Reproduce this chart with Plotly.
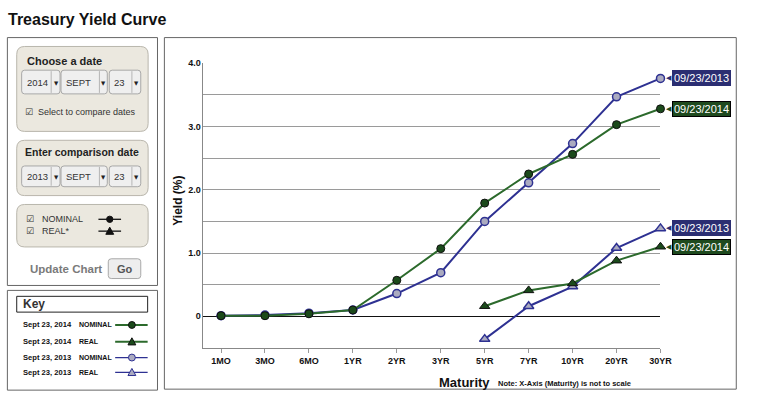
import plotly.graph_objects as go

# ---------------- data ----------------
maturities = ["1MO", "3MO", "6MO", "1YR", "2YR", "3YR", "5YR", "7YR", "10YR", "20YR", "30YR"]
nominal_2014 = [0.01, 0.01, 0.04, 0.10, 0.57, 1.07, 1.79, 2.25, 2.56, 3.03, 3.28]
nominal_2013 = [0.01, 0.02, 0.05, 0.10, 0.36, 0.69, 1.50, 2.11, 2.73, 3.47, 3.76]
real_maturities = ["5YR", "7YR", "10YR", "20YR", "30YR"]
real_2014 = [0.16, 0.41, 0.52, 0.88, 1.10]
real_2013 = [-0.36, 0.16, 0.47, 1.08, 1.39]
y_tickvals = [-0.5, 0, 0.5, 1.0, 1.5, 2.0, 2.5, 3.0, 3.5, 4.0]
y_ticktext = ["", "0", "", "1.0", "", "2.0", "", "3.0", "", "4.0"]
label_2013 = "09/23/2013"
label_2014 = "09/23/2014"

FONT = "Liberation Sans, Arial, sans-serif"
W, H = 765, 401
BLUE = "#2e3192"
BLUE_FILL = "#ababc0"
BLUE_BOX = "#2b2e72"
GREEN = "#2c6a2c"
GREEN_FILL = "#1b4a1b"
GREEN_BOX = "#1e4a1e"


def X(px):
    return px / W


def Y(py):
    return 1 - py / H


shapes = []
annotations = []


def rrect(x0, y0, x1, y1, r, fill, line, lw=1):
    p = (f"M {X(x0 + r)},{Y(y0)} L {X(x1 - r)},{Y(y0)} Q {X(x1)},{Y(y0)} {X(x1)},{Y(y0 + r)} "
         f"L {X(x1)},{Y(y1 - r)} Q {X(x1)},{Y(y1)} {X(x1 - r)},{Y(y1)} "
         f"L {X(x0 + r)},{Y(y1)} Q {X(x0)},{Y(y1)} {X(x0)},{Y(y1 - r)} "
         f"L {X(x0)},{Y(y0 + r)} Q {X(x0)},{Y(y0)} {X(x0 + r)},{Y(y0)} Z")
    shapes.append(dict(type="path", xref="paper", yref="paper", path=p,
                       fillcolor=fill, line=dict(color=line, width=lw)))


def rect(x0, y0, x1, y1, line, lw=1, fill="rgba(0,0,0,0)"):
    shapes.append(dict(type="rect", xref="paper", yref="paper",
                       x0=X(x0), x1=X(x1), y0=Y(y0), y1=Y(y1),
                       fillcolor=fill, line=dict(color=line, width=lw)))


def hline(x0, x1, y, color, lw=1):
    shapes.append(dict(type="line", xref="paper", yref="paper",
                       x0=X(x0), x1=X(x1), y0=Y(y), y1=Y(y), line=dict(color=color, width=lw)))


def vline(x, y0, y1, color, lw=1):
    shapes.append(dict(type="line", xref="paper", yref="paper",
                       x0=X(x), x1=X(x), y0=Y(y0), y1=Y(y1), line=dict(color=color, width=lw)))


def circle(cx, cy, r, fill, line, lw=1):
    shapes.append(dict(type="circle", xref="paper", yref="paper",
                       x0=X(cx - r), x1=X(cx + r), y0=Y(cy + r), y1=Y(cy - r),
                       fillcolor=fill, line=dict(color=line, width=lw)))


def tri(cx, cy, s, fill, line, lw=1):
    p = f"M {X(cx - s)},{Y(cy + s * 0.8)} L {X(cx + s)},{Y(cy + s * 0.8)} L {X(cx)},{Y(cy - s)} Z"
    shapes.append(dict(type="path", xref="paper", yref="paper", path=p,
                       fillcolor=fill, line=dict(color=line, width=lw)))


def text(x, y, s, size, color="#222", bold=False, xanchor="left", family=FONT):
    annotations.append(dict(xref="paper", yref="paper", x=X(x), y=Y(y), text=s,
                            showarrow=False, xanchor=xanchor, yanchor="middle",
                            borderpad=0,
                            font=dict(family=family, size=size, color=color,
                                      weight="bold" if bold else "normal")))


# ---------------- title ----------------
text(7, 15, "Treasury Yield Curve", 16, "#111", True)

# ---------------- left control panel ----------------
rect(7.5, 33, 160, 284, "#666")
PANEL = "#ebe8df"


def dropdowns(y0, y1, labels):
    boxes = [(22, 61, 52), (62, 109, 101), (111, 143, 134)]
    for (bx0, bx1, div), lab in zip(boxes, labels):
        rrect(bx0, y0, bx1, y1, 3, "#efefef", "#a8a8a8")
        vline(div, y0 + 1, y1 - 1, "#b5b5b5")
        text(bx0 + 4, (y0 + y1) / 2, lab, 9.5, "#333")
        text((div + bx1) / 2 + 0.5, (y0 + y1) / 2 + 1, "▼", 5.5, "#222", xanchor="center",
             family="DejaVu Sans")


rrect(17, 42, 150.5, 128, 8, PANEL, "#b9b6ac")
text(26, 57, "Choose a date", 11, "#222", True)
dropdowns(66, 90, ["2014", "SEPT", "23"])
text(24, 108, "☑", 9, "#333", family="DejaVu Sans")
text(38, 108, "Select to compare dates", 9, "#333")

rrect(17, 137, 150.5, 193, 8, PANEL, "#b9b6ac")
text(24, 149, "Enter comparison date", 10.5, "#222", True)
dropdowns(163, 184, ["2013", "SEPT", "23"])

rrect(17, 202, 150.5, 245, 8, PANEL, "#b9b6ac")
text(25, 217, "☑", 9, "#333", family="DejaVu Sans")
text(42, 217, "NOMINAL", 9, "#333")
text(25, 229, "☑", 9, "#333", family="DejaVu Sans")
text(42, 229, "REAL*", 9, "#333")
hline(100, 123, 217, "#111", 1.3)
circle(111.5, 217, 3.2, "#111", "#111")
hline(100, 123, 229, "#111", 1.3)
tri(111.5, 229, 4, "#111", "#111")

text(29, 267, "Update Chart", 11.5, "#7a7a7a", True)
rrect(110, 257, 143, 277, 3, "#eeeeee", "#a8a8a8")
text(126.5, 267, "Go", 11, "#555", True, xanchor="center")

# ---------------- key panel ----------------
rect(7.5, 289, 160, 390, "#666")
rect(17, 295, 150, 311, "#222")
text(22, 303, "Key", 12, "#333", True)
key_rows = [
    (324, "Sept 23, 2014", "NOMINAL", GREEN, GREEN_FILL, "#111", "circle"),
    (341, "Sept 23, 2014", "REAL", GREEN, GREEN_FILL, "#111", "tri"),
    (357, "Sept 23, 2013", "NOMINAL", BLUE, BLUE_FILL, BLUE, "circle"),
    (372, "Sept 23, 2013", "REAL", BLUE, BLUE_FILL, BLUE, "tri"),
]
for yy, d, kind, lc, fc, oc, sym in key_rows:
    text(22, yy, d, 7.6, "#111", True)
    text(79, yy, kind, 7.0, "#111", True)
    hline(117, 150, yy, lc, 2 if lc == GREEN else 1.3)
    if sym == "circle":
        circle(134, yy, 3.5, fc, oc)
    else:
        tri(134, yy, 4, fc, oc)

# ---------------- chart frame ----------------
rect(167, 33, 748, 389, "#666")

# ---------------- traces ----------------
fig = go.Figure()
fig.add_trace(go.Scatter(x=maturities, y=nominal_2013, mode="lines+markers", cliponaxis=False,
                         line=dict(color=BLUE, width=2),
                         marker=dict(symbol="circle", size=8, color=BLUE_FILL,
                                     line=dict(color=BLUE, width=1.5))))
fig.add_trace(go.Scatter(x=maturities, y=nominal_2014, mode="lines+markers", cliponaxis=False,
                         line=dict(color=GREEN, width=2),
                         marker=dict(symbol="circle", size=8, color=GREEN_FILL,
                                     line=dict(color="#111", width=1))))
fig.add_trace(go.Scatter(x=real_maturities, y=real_2013, mode="lines+markers", cliponaxis=False,
                         line=dict(color=BLUE, width=2),
                         marker=dict(symbol="triangle-up", size=9, color=BLUE_FILL,
                                     line=dict(color=BLUE, width=1.5))))
fig.add_trace(go.Scatter(x=real_maturities, y=real_2014, mode="lines+markers", cliponaxis=False,
                         line=dict(color=GREEN, width=2),
                         marker=dict(symbol="triangle-up", size=9, color=GREEN_FILL,
                                     line=dict(color="#111", width=1))))

# end labels (data-anchored)
for yv, lab, bg, bc in [
    (nominal_2013[-1], label_2013, BLUE_BOX, BLUE_BOX),
    (nominal_2014[-1], label_2014, GREEN_BOX, "#000"),
    (real_2013[-1], label_2013, BLUE_BOX, BLUE_BOX),
    (real_2014[-1], label_2014, GREEN_BOX, "#000"),
]:
    annotations.append(dict(xref="x", yref="y", x=maturities[-1], y=yv, text=lab,
                            showarrow=False, xanchor="left", yanchor="middle", xshift=12,
                            bgcolor=bg, bordercolor=bc, borderwidth=1, borderpad=1,
                            font=dict(family=FONT, size=11, color="white")))
    annotations.append(dict(xref="x", yref="y", x=maturities[-1], y=yv, text="◀",
                            showarrow=False, xanchor="right", yanchor="middle", xshift=14,
                            font=dict(family="DejaVu Sans", size=7, color=bg)))

# axis titles
annotations.append(dict(xref="paper", yref="paper", x=X(180), y=Y(198), text="Yield (%)",
                        showarrow=False, textangle=-90, xanchor="center", yanchor="middle",
                        font=dict(family=FONT, size=12, color="#111", weight="bold")))
annotations.append(dict(xref="paper", yref="paper", x=X(472), y=Y(382), text="Maturity",
                        showarrow=False, xanchor="center", yanchor="middle",
                        font=dict(family=FONT, size=13, color="#111", weight="bold")))
annotations.append(dict(xref="paper", yref="paper", x=X(504), y=Y(383), text="Note: X-Axis (Maturity) is not to scale",
                        showarrow=False, xanchor="left", yanchor="middle",
                        font=dict(family=FONT, size=7.5, color="#111", weight="bold")))

fig.update_layout(
    width=W, height=H, autosize=False,
    margin=dict(l=0, r=0, t=0, b=0),
    paper_bgcolor="white", plot_bgcolor="white",
    showlegend=False,
    font=dict(family=FONT),
    xaxis=dict(domain=[X(206.7), X(671)], type="category",
               categoryorder="array", categoryarray=maturities,
               range=[-0.4, 10], showgrid=False, zeroline=False,
               showline=True, linecolor="#888", linewidth=1,
               ticks="outside", ticklen=4, tickcolor="#999",
               tickfont=dict(family=FONT, size=9, color="#111", weight="bold")),
    yaxis=dict(domain=[Y(347.3), Y(59)], range=[-0.5, 4.0],
               tickmode="array", tickvals=y_tickvals, ticktext=y_ticktext,
               showgrid=True, gridcolor="#9a9a9a", gridwidth=1,
               zeroline=True, zerolinecolor="#111", zerolinewidth=1,
               showline=True, linecolor="#888", linewidth=1, ticks="",
               tickfont=dict(family=FONT, size=9, color="#111", weight="bold")),
    shapes=shapes,
    annotations=annotations,
)

fig.write_html("out.html", config={"displayModeBar": False},
               post_script="document.body.style.margin='0';document.body.style.padding='0';"
                           "document.documentElement.style.overflow='hidden';")
